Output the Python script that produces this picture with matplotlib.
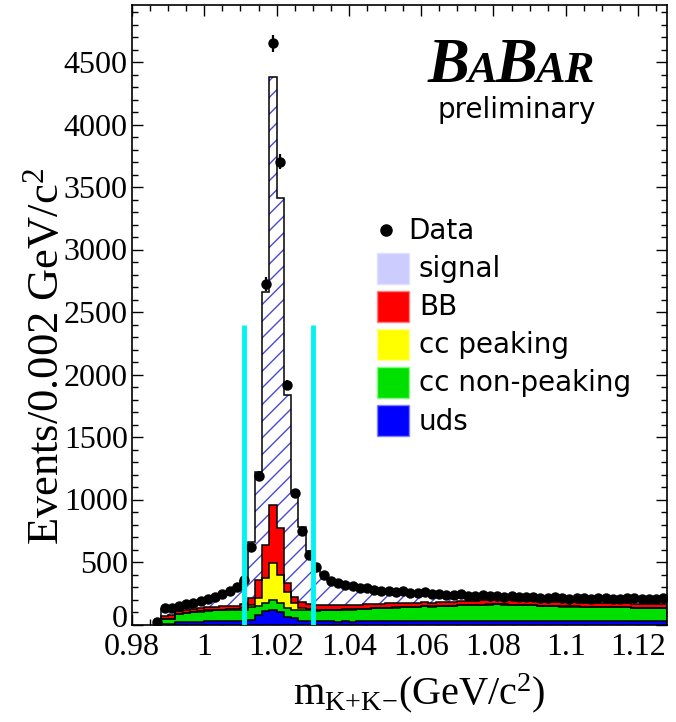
import numpy as np
import matplotlib
matplotlib.use('Agg')
import matplotlib.pyplot as plt
import matplotlib.transforms as mtransforms
from matplotlib.patches import Rectangle
from matplotlib.lines import Line2D
from matplotlib.ticker import MultipleLocator, FixedLocator

# ---------------- data ----------------
bin_start = 0.986
bin_width = 0.002
n_bins = 71

data = [20, 129, 135, 150, 162, 175, 190, 205, 222, 245, 272, 303, 356, 623, 1190, 2724,
        4650, 3703, 1916, 1052, 745, 560, 460, 395, 345, 330, 318, 305, 292, 290, 280,
        272, 268, 262, 270, 255, 250, 258, 245, 248, 240, 236, 242, 232, 228, 235, 226,
        230, 222, 228, 218, 220, 224, 214, 210, 218, 212, 208, 215, 210, 206, 212, 216,
        208, 204, 210, 214, 206, 202, 208, 210]
uds = [0, 6, 6, 18, 20, 22, 24, 26, 28, 27, 28, 28, 30, 36, 76, 108, 116, 103, 63, 49,
       30, 28, 26, 25, 25, 24, 25, 24, 25, 26, 25, 26, 27, 26, 28, 26, 25, 27, 26, 28,
       25, 26, 27, 26, 25, 27, 26, 28, 26, 27, 25, 26, 27, 25, 26, 27, 25, 26, 27, 25,
       26, 27, 26, 25, 26, 27, 25, 26, 27, 25, 26]
cc_nonpeak = [8, 35, 36, 68, 72, 76, 80, 84, 86, 87, 88, 88, 90, 101, 72, 67, 80, 66, 66,
              67, 83, 85, 86, 88, 90, 92, 94, 96, 98, 100, 104, 106, 108, 110, 112, 114,
              116, 118, 118, 120, 122, 124, 126, 128, 130, 132, 134, 136, 134, 132, 130,
              128, 126, 124, 122, 120, 119, 118, 117, 116, 115, 114, 113, 112, 111, 110,
              109, 108, 107, 106, 105]
cc_peak = [0, 1, 1, 1, 2, 2, 2, 3, 3, 4, 5, 7, 10, 19, 61, 194, 293, 227, 134, 53, 16, 10,
           6, 5, 4, 3, 3, 2, 2, 2, 2, 2, 1, 1, 1, 1, 1, 1, 1, 1, 1, 1, 1, 1, 1, 1, 1, 1, 1,
           1, 1, 1, 1, 1, 1, 1, 1, 1, 1, 1, 1, 1, 1, 1, 1, 1, 1, 1, 1, 1, 1]
bbbar = [4, 28, 33, 24, 26, 26, 27, 28, 27, 27, 28, 29, 32, 53, 147, 267, 467, 373, 66, 54,
         54, 45, 40, 37, 36, 36, 35, 36, 35, 34, 34, 33, 33, 33, 32, 32, 32, 31, 31, 30,
         30, 30, 31, 33, 35, 37, 38, 38, 37, 36, 35, 35, 34, 34, 34, 33, 33, 33, 32, 32,
         32, 32, 31, 31, 31, 31, 31, 31, 30, 30, 30]
signal = [6, 55, 58, 36, 42, 48, 55, 62, 76, 98, 120, 150, 190, 454, 864, 2027, 3426, 2641,
          1507, 840, 597, 422, 313, 245, 200, 175, 158, 145, 132, 125, 115, 105, 97, 90, 84,
          78, 72, 68, 64, 60, 57, 54, 52, 50, 48, 46, 44, 42, 40, 38, 37, 36, 35, 34, 33,
          32, 31, 30, 30, 29, 28, 28, 27, 27, 26, 26, 25, 25, 24, 24, 24]

window = [1.011, 1.030]
window_height = 2400

x_ticks = [0.98, 1.00, 1.02, 1.04, 1.06, 1.08, 1.10, 1.12]
x_ticklabels = ['0.98', '1', '1.02', '1.04', '1.06', '1.08', '1.1', '1.12']
y_ticks = [0, 500, 1000, 1500, 2000, 2500, 3000, 3500, 4000, 4500]

legend_labels = ['Data', 'signal', 'BB', 'cc peaking', 'cc non-peaking', 'uds']

# ---------------- style ----------------
W, H = 676, 722
plt.rcParams['mathtext.fontset'] = 'custom'
plt.rcParams['mathtext.rm'] = 'Liberation Serif'
plt.rcParams['mathtext.it'] = 'Liberation Serif:italic'
plt.rcParams['hatch.linewidth'] = 1.0

def fx(px):
    return px / W

def fy(py):
    return 1 - py / H

fig = plt.figure(figsize=(W / 100, H / 100), dpi=100)
ax = fig.add_axes([fx(132), fy(624.5), (667 - 132) / W, (624.5 - 5) / H])

edges = np.round(bin_start + bin_width * np.arange(n_bins + 1), 3)
centers = 0.5 * (edges[:-1] + edges[1:])

c_uds = '#0000ff'
c_ccnp = '#00e000'
c_ccp = '#ffff00'
c_bb = '#ff0000'
c_sig_leg = '#ccccff'
c_hatch = '#4a4ad0'

layers = [(np.array(uds, float), c_uds), (np.array(cc_nonpeak, float), c_ccnp),
          (np.array(cc_peak, float), c_ccp), (np.array(bbbar, float), c_bb)]
base = np.zeros(n_bins)
tops = []
for vals, col in layers:
    top = base + vals
    ax.stairs(top, edges, baseline=base, fill=True, facecolor=col, edgecolor=col, lw=0, zorder=2)
    tops.append(top)
    base = top
top = base + np.array(signal, float)
ax.stairs(top, edges, baseline=base, fill=True, facecolor='white', edgecolor=c_hatch,
          hatch='//', lw=0, zorder=2)
tops.append(top)
for t in tops:
    ax.stairs(t, edges, baseline=0, fill=False, color='black', lw=1.1, zorder=3)

d = np.array(data, float)
ax.errorbar(centers, d, yerr=np.sqrt(d), fmt='o', color='black', ms=6.5,
            elinewidth=1.6, capsize=0, zorder=5)

ax.vlines(window, 0, window_height, colors='#00f4f4', lw=3.5, zorder=6)

ax.set_xlim(0.98, 1.128)
ax.set_ylim(0, 4956)
ax.xaxis.set_major_locator(FixedLocator(x_ticks))
ax.set_xticklabels(x_ticklabels)
ax.xaxis.set_minor_locator(MultipleLocator(0.005))
ax.yaxis.set_major_locator(FixedLocator(y_ticks))
ax.yaxis.set_minor_locator(MultipleLocator(100))
ax.tick_params(which='both', direction='in', top=True, right=True, width=1.0)
ax.tick_params(which='major', length=8)
ax.tick_params(which='minor', length=4.3)
ax.tick_params(axis='x', pad=6)
ax.tick_params(axis='y', pad=3)
for lab in ax.get_xticklabels() + ax.get_yticklabels():
    lab.set_fontfamily('Liberation Serif')
    lab.set_fontsize(23)
# lift the "0" of the y axis a little so it sits above "0.98"
ylab0 = ax.get_yticklabels()[0]
ylab0.set_transform(ylab0.get_transform() +
                    mtransforms.ScaledTranslation(0, 6 / 72, fig.dpi_scale_trans))
for sp in ax.spines.values():
    sp.set_linewidth(1.2)

# axis titles
fig.text(fx(47), fy(356), r'Events/0.002 GeV/c$^{\mathrm{2}}$', rotation=90,
         ha='center', va='center', fontsize=32, family='Liberation Serif')
fig.text(fx(419), fy(693), r'm$_{\mathrm{K{+}K{-}}}$(GeV/c$^{\mathrm{2}}$)',
         ha='center', va='center', fontsize=29, family='Liberation Serif')

# BaBar logo
fig.canvas.draw()
rend = fig.canvas.get_renderer()
x = 428
for s, size in [('B', 45), ('A', 32), ('B', 45), ('AR', 32)]:
    t = fig.text(fx(x), fy(82), s, fontsize=size, family='Liberation Serif',
                 weight='bold', style='italic', va='baseline', ha='left')
    bb = t.get_window_extent(rend)
    x += bb.width - 2
fig.text(fx(517), fy(118), 'preliminary', ha='center', va='baseline', fontsize=20,
         family='DejaVu Sans')

# legend
rows = [230, 268, 306, 344, 382, 421]
sw_cols = [None, c_sig_leg, c_bb, c_ccp, c_ccnp, c_uds]
edge_cols = [None, '#e0e0ff', '#ff8080', '#ffff99', '#80ff80', '#8080ff']
for i, (lab, yc) in enumerate(zip(legend_labels, rows)):
    if i == 0:
        fig.add_artist(Line2D([fx(386)], [fy(yc)], marker='o', ms=8, color='black',
                              transform=fig.transFigure))
        fig.text(fx(408), fy(yc + 9), lab, ha='left', va='baseline', fontsize=20,
                 family='DejaVu Sans')
    else:
        fig.add_artist(Rectangle((fx(377), fy(yc + 15.5)), 32 / W, 31 / H,
                                 transform=fig.transFigure, facecolor=sw_cols[i],
                                 edgecolor=edge_cols[i], lw=1))
        fig.text(fx(419), fy(yc + 9), lab, ha='left', va='baseline', fontsize=20,
                 family='DejaVu Sans')

fig.savefig('out.png', dpi=100)
